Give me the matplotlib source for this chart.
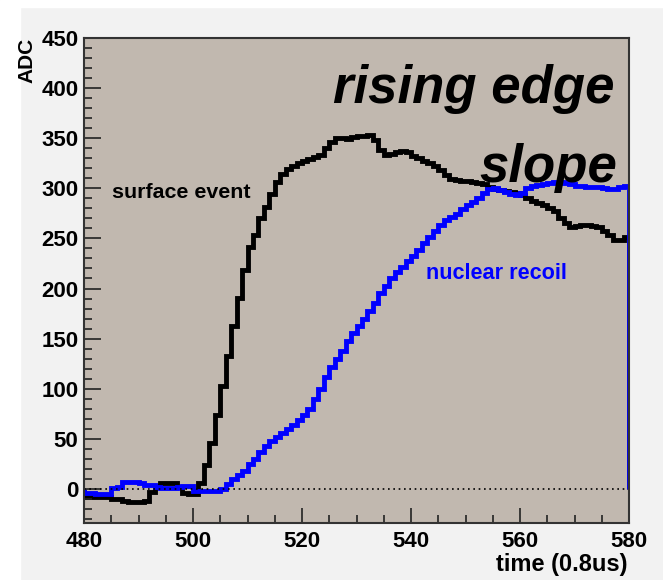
import numpy as np
import matplotlib.pyplot as plt
from matplotlib.patches import Rectangle

# time bins (0.8us units), one bin per unit
edges = np.arange(480, 581)

# surface event (black), ADC per bin from 480 to 579
surface = [-8, -8, -8, -8, -8, -10, -10, -12, -13, -13,
           -13, -12, -3, 3, 6, 6, 6, 2, -4, -5,
           -5, 6, 24, 46, 74, 103, 133, 163, 191, 218,
           241, 253, 270, 281, 294, 306, 314, 319, 322, 325,
           327, 329, 331, 333, 340, 346, 350, 350, 349, 351,
           352, 352, 353, 348, 338, 333, 334, 336, 337, 336,
           332, 330, 327, 325, 322, 318, 313, 309, 308, 307,
           307, 306, 305, 304, 301, 299, 298, 297, 296, 295,
           293, 290, 287, 285, 283, 280, 277, 270, 265, 261,
           262, 263, 263, 262, 261, 257, 253, 248, 248, 251]

# nuclear recoil (blue)
recoil = [-4, -4, -5, -5, -5, 1, 2, 7, 7, 7,
          6, 4, 4, 2, 1, 1, 1, 2, 3, 3,
          -2, -2, -2, -2, -2, 0, 5, 10, 14, 18,
          25, 30, 37, 43, 48, 52, 56, 60, 64, 69,
          74, 80, 90, 100, 112, 122, 130, 138, 148, 156,
          163, 170, 178, 186, 196, 203, 210, 216, 221, 227,
          232, 238, 245, 251, 257, 263, 268, 271, 274, 279,
          283, 286, 290, 295, 299, 300, 298, 296, 294, 293,
          295, 300, 302, 303, 304, 305, 306, 306, 305, 304,
          302, 302, 301, 301, 301, 300, 299, 299, 301, 302]

fig = plt.figure(figsize=(6.63, 5.8), dpi=100, facecolor='#F2F2F2')
# white slide margin on the left and top
fig.patches.append(Rectangle((0, 0), 20 / 663, 1, transform=fig.transFigure,
                             color='white', zorder=0))
fig.patches.append(Rectangle((0, 1 - 7 / 580), 1, 7 / 580, transform=fig.transFigure,
                             color='white', zorder=0))

ax = fig.add_axes([84 / 663, 57 / 580, 545 / 663, 485 / 580])
ax.set_facecolor('#C1B8AF')

ax.stairs(surface, edges, color='black', lw=3.5)
ax.stairs(recoil, edges, color='#0000FF', lw=3.5)
ax.axhline(0, color='black', lw=1.2, ls=(0, (1, 2.2)))

ax.set_xlim(480, 580)
ax.set_ylim(-34, 450)
ax.set_xticks(np.arange(480, 581, 20))
ax.set_xticks(np.arange(480, 581, 5), minor=True)
ax.set_yticks(np.arange(0, 451, 50))
ax.set_yticks(np.arange(-30, 451, 10), minor=True)

ax.tick_params(which='both', direction='in', top=False, right=False,
               width=1.2, color='#222222')
ax.tick_params(axis='y', which='major', length=12, pad=4)
ax.tick_params(axis='y', which='minor', length=6)
ax.tick_params(axis='x', which='major', length=11, pad=6)
ax.tick_params(axis='x', which='minor', length=6)
for lab in ax.get_xticklabels() + ax.get_yticklabels():
    lab.set_fontfamily(['Liberation Sans', 'DejaVu Sans'])
    lab.set_fontweight('bold')
    lab.set_fontsize(16)

for s in ax.spines.values():
    s.set_color('#333333')
    s.set_linewidth(1.5)

sans = ['Liberation Sans', 'DejaVu Sans']
fig.text(27 / 663, 1 - 60 / 580, 'ADC', rotation=90, ha='center', va='center',
         fontsize=15, fontweight='bold', family=sans)
fig.text(628 / 663, 1 - 565 / 580, 'time (0.8us)', ha='right', va='center',
         fontsize=17, fontweight='bold', family=sans)

ax.text(577.4, 385, 'rising edge', ha='right', va='baseline', fontsize=38,
        fontweight='bold', style='italic', family=sans)
ax.text(577.8, 306, 'slope', ha='right', va='baseline', fontsize=38,
        fontweight='bold', style='italic', family=sans)
ax.text(485.1, 290, 'surface event', ha='left', va='baseline', fontsize=15.4,
        fontweight='bold', family=sans, color='black')
ax.text(542.8, 209, 'nuclear recoil', ha='left', va='baseline', fontsize=15.6,
        fontweight='bold', family=sans, color='#0000FF')

fig.savefig('out.png', dpi=100, facecolor=fig.get_facecolor())
